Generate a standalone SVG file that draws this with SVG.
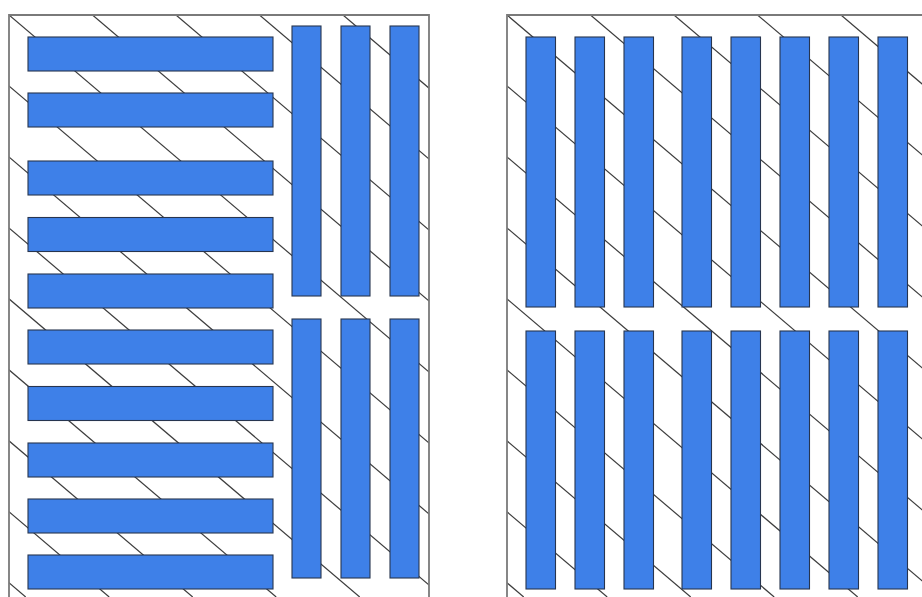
<svg xmlns="http://www.w3.org/2000/svg" width="922" height="597" viewBox="0 0 922 597">
<style>
.bar{fill:#3e80e8;stroke:#27354f;stroke-width:1.1}
.hatch{stroke:#3c3c3c;stroke-width:1.2;fill:none}
.frame{fill:none;stroke:#7a7a7a;stroke-width:1.8}
</style>
<defs>
<clipPath id="clipL"><rect x="9" y="15" width="420" height="590"/></clipPath>
<clipPath id="clipR"><rect x="507" y="15" width="420" height="590"/></clipPath>
</defs>
<rect width="922" height="597" fill="#ffffff"/>
<g id="panel-left">
<g clip-path="url(#clipL)" class="hatch">
<line x1="-659" y1="15" x2="25.7" y2="597"/>
<line x1="-575.5" y1="15" x2="109.2" y2="597"/>
<line x1="-492" y1="15" x2="192.7" y2="597"/>
<line x1="-408.5" y1="15" x2="276.2" y2="597"/>
<line x1="-325" y1="15" x2="359.7" y2="597"/>
<line x1="-241.5" y1="15" x2="443.2" y2="597"/>
<line x1="-158" y1="15" x2="526.7" y2="597"/>
<line x1="-74.5" y1="15" x2="610.2" y2="597"/>
<line x1="9" y1="15" x2="693.7" y2="597"/>
<line x1="92.5" y1="15" x2="777.2" y2="597"/>
<line x1="176" y1="15" x2="860.7" y2="597"/>
<line x1="259.5" y1="15" x2="944.2" y2="597"/>
<line x1="343" y1="15" x2="1027.7" y2="597"/>
</g>
<path class="frame" d="M9,600 V15 H429 V600"/>
<rect class="bar" x="28" y="37" width="245" height="34"/>
<rect class="bar" x="28" y="93" width="245" height="34"/>
<rect class="bar" x="28" y="161" width="245" height="34"/>
<rect class="bar" x="28" y="217.5" width="245" height="34"/>
<rect class="bar" x="28" y="274" width="245" height="34"/>
<rect class="bar" x="28" y="330" width="245" height="34"/>
<rect class="bar" x="28" y="386.5" width="245" height="34"/>
<rect class="bar" x="28" y="443" width="245" height="34"/>
<rect class="bar" x="28" y="499" width="245" height="34"/>
<rect class="bar" x="28" y="555" width="245" height="34"/>
<rect class="bar" x="292" y="26" width="29" height="270"/>
<rect class="bar" x="341" y="26" width="29" height="270"/>
<rect class="bar" x="390" y="26" width="29" height="270"/>
<rect class="bar" x="292" y="319" width="29" height="259"/>
<rect class="bar" x="341" y="319" width="29" height="259"/>
<rect class="bar" x="390" y="319" width="29" height="259"/>
</g>
<g id="panel-right">
<g clip-path="url(#clipR)" class="hatch">
<line x1="-161" y1="15" x2="523.7" y2="597"/>
<line x1="-77.5" y1="15" x2="607.2" y2="597"/>
<line x1="6" y1="15" x2="690.7" y2="597"/>
<line x1="89.5" y1="15" x2="774.2" y2="597"/>
<line x1="173" y1="15" x2="857.7" y2="597"/>
<line x1="256.5" y1="15" x2="941.2" y2="597"/>
<line x1="340" y1="15" x2="1024.7" y2="597"/>
<line x1="423.5" y1="15" x2="1108.2" y2="597"/>
<line x1="507" y1="15" x2="1191.7" y2="597"/>
<line x1="590.5" y1="15" x2="1275.2" y2="597"/>
<line x1="674" y1="15" x2="1358.7" y2="597"/>
<line x1="757.5" y1="15" x2="1442.2" y2="597"/>
<line x1="841" y1="15" x2="1525.7" y2="597"/>
</g>
<path class="frame" d="M507,600 V15 H930"/>
<rect class="bar" x="526" y="37" width="29.5" height="270"/>
<rect class="bar" x="575" y="37" width="29.5" height="270"/>
<rect class="bar" x="624" y="37" width="29.5" height="270"/>
<rect class="bar" x="682" y="37" width="29.5" height="270"/>
<rect class="bar" x="731" y="37" width="29.5" height="270"/>
<rect class="bar" x="780" y="37" width="29.5" height="270"/>
<rect class="bar" x="829" y="37" width="29.5" height="270"/>
<rect class="bar" x="878" y="37" width="29.5" height="270"/>
<rect class="bar" x="526" y="331" width="29.5" height="258"/>
<rect class="bar" x="575" y="331" width="29.5" height="258"/>
<rect class="bar" x="624" y="331" width="29.5" height="258"/>
<rect class="bar" x="682" y="331" width="29.5" height="258"/>
<rect class="bar" x="731" y="331" width="29.5" height="258"/>
<rect class="bar" x="780" y="331" width="29.5" height="258"/>
<rect class="bar" x="829" y="331" width="29.5" height="258"/>
<rect class="bar" x="878" y="331" width="29.5" height="258"/>
</g>
</svg>
